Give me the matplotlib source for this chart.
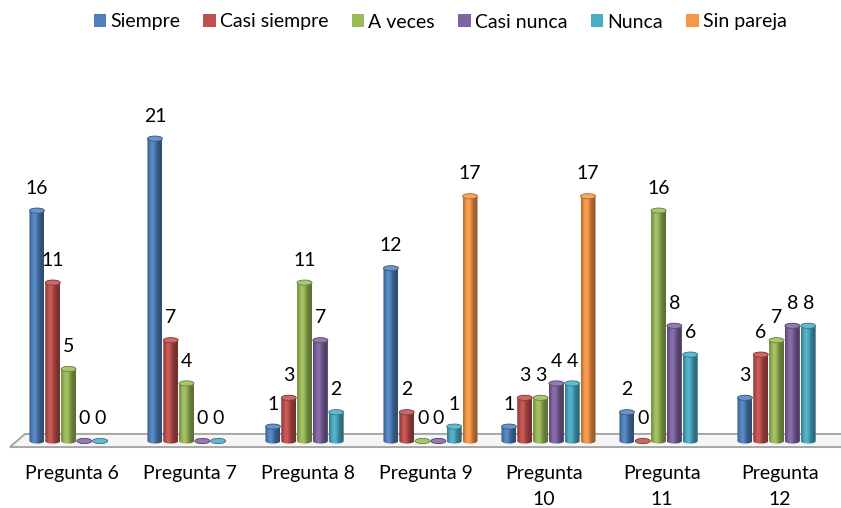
import numpy as np
import matplotlib
matplotlib.use("Agg")
import matplotlib.pyplot as plt
from matplotlib.patches import Polygon, Ellipse, Patch
from matplotlib.colors import to_rgb

plt.rcParams['font.family'] = ['Lato', 'DejaVu Sans']

categorias = ['Pregunta 6', 'Pregunta 7', 'Pregunta 8', 'Pregunta 9',
              'Pregunta\n10', 'Pregunta\n11', 'Pregunta\n12']
series = ['Siempre', 'Casi siempre', 'A veces', 'Casi nunca', 'Nunca', 'Sin pareja']

siempre = [16, 21, 1, 12, 1, 2, 3]
casi_siempre = [11, 7, 3, 2, 3, 0, 6]
a_veces = [5, 4, 11, 0, 3, 16, 7]
casi_nunca = [0, 0, 7, 0, 4, 8, 8]
nunca = [0, 0, 2, 1, 4, 6, 8]
sin_pareja = [None, None, None, 17, 17, None, None]

colores = ['#4F81BD', '#C0504D', '#9BBB59', '#8064A2', '#4BACC6', '#F79646']
valores = [siempre, casi_siempre, a_veces, casi_nunca, nunca, sin_pareja]

slot = 0.134
ancho = 0.127
alto_tapa = 0.36


def sombra(base, n=40):
    # horizontal shading so each bar reads as a cylinder
    t = np.linspace(0, 1, n)
    s = 0.6 + 0.48 * np.exp(-((t - 0.35) / 0.3) ** 2)
    b = np.array(to_rgb(base))
    osc = np.minimum(s, 1)[:, None] * b
    luz = np.maximum(s - 1, 0)[:, None] * (1 - b)
    return np.clip(osc + luz, 0, 1)[None, :, :]


def cilindro(ax, c, v, color):
    r = ancho / 2
    h = alto_tapa / 2
    t1 = np.linspace(np.pi, 2 * np.pi, 30)
    t2 = np.linspace(0, np.pi, 30)
    xs = np.concatenate([c + r * np.cos(t1), c + r * np.cos(t2)])
    ys = np.concatenate([h * np.sin(t1), v + h * np.sin(t2)])
    silueta = Polygon(np.column_stack([xs, ys]), closed=True,
                      fc='none', ec='none', transform=ax.transData)
    ax.add_patch(silueta)
    im = ax.imshow(sombra(color), extent=(c - r, c + r, -h, v + h),
                   aspect='auto', zorder=2, interpolation='bilinear')
    im.set_clip_path(silueta)
    b = np.array(to_rgb(color))
    tapa = b * 0.85 + 0.15
    ax.add_patch(Ellipse((c, v), ancho, alto_tapa, fc=tapa, ec=b * 0.7,
                         lw=0.6, zorder=3))


fig = plt.figure(figsize=(8.41, 5.08), dpi=100)
ax = fig.add_axes([0, 38 / 508, 1, 410 / 508])

# floor of the 3D plot area
piso = Polygon([(-0.564, -0.42), (6.7, -0.42), (6.75, 0.49), (-0.436, 0.49)],
               closed=True, fc='#f5f5f5', ec='#a6a6a6', lw=1.4, zorder=1)
ax.add_patch(piso)

for k, (vals, col) in enumerate(zip(valores, colores)):
    for i, v in enumerate(vals):
        if v is None:
            continue
        c = i + (k - 2.5) * slot
        cilindro(ax, c, v, col)
        ax.annotate(str(v), (c, v), xytext=(0, 16), textcoords='offset points',
                    ha='center', va='center', fontsize=14, color='black', zorder=5)

for i, cat in enumerate(categorias):
    ax.text(i - 0.04, -1.65, cat, ha='center', va='top', fontsize=14,
            linespacing=1.65, color='black')

ax.set_xlim(-0.648, 6.479)
ax.set_ylim(-2.014, 26.46)
ax.axis('off')

handles = [Patch(facecolor=c, edgecolor='none') for c in colores]
fig.legend(handles, series, loc='center', bbox_to_anchor=(440 / 841, 1 - 22 / 508),
           ncol=6, frameon=False, handlelength=0.65, handleheight=0.65,
           handletextpad=0.2, columnspacing=1.2, fontsize=14)

fig.savefig('out.png', dpi=100)
